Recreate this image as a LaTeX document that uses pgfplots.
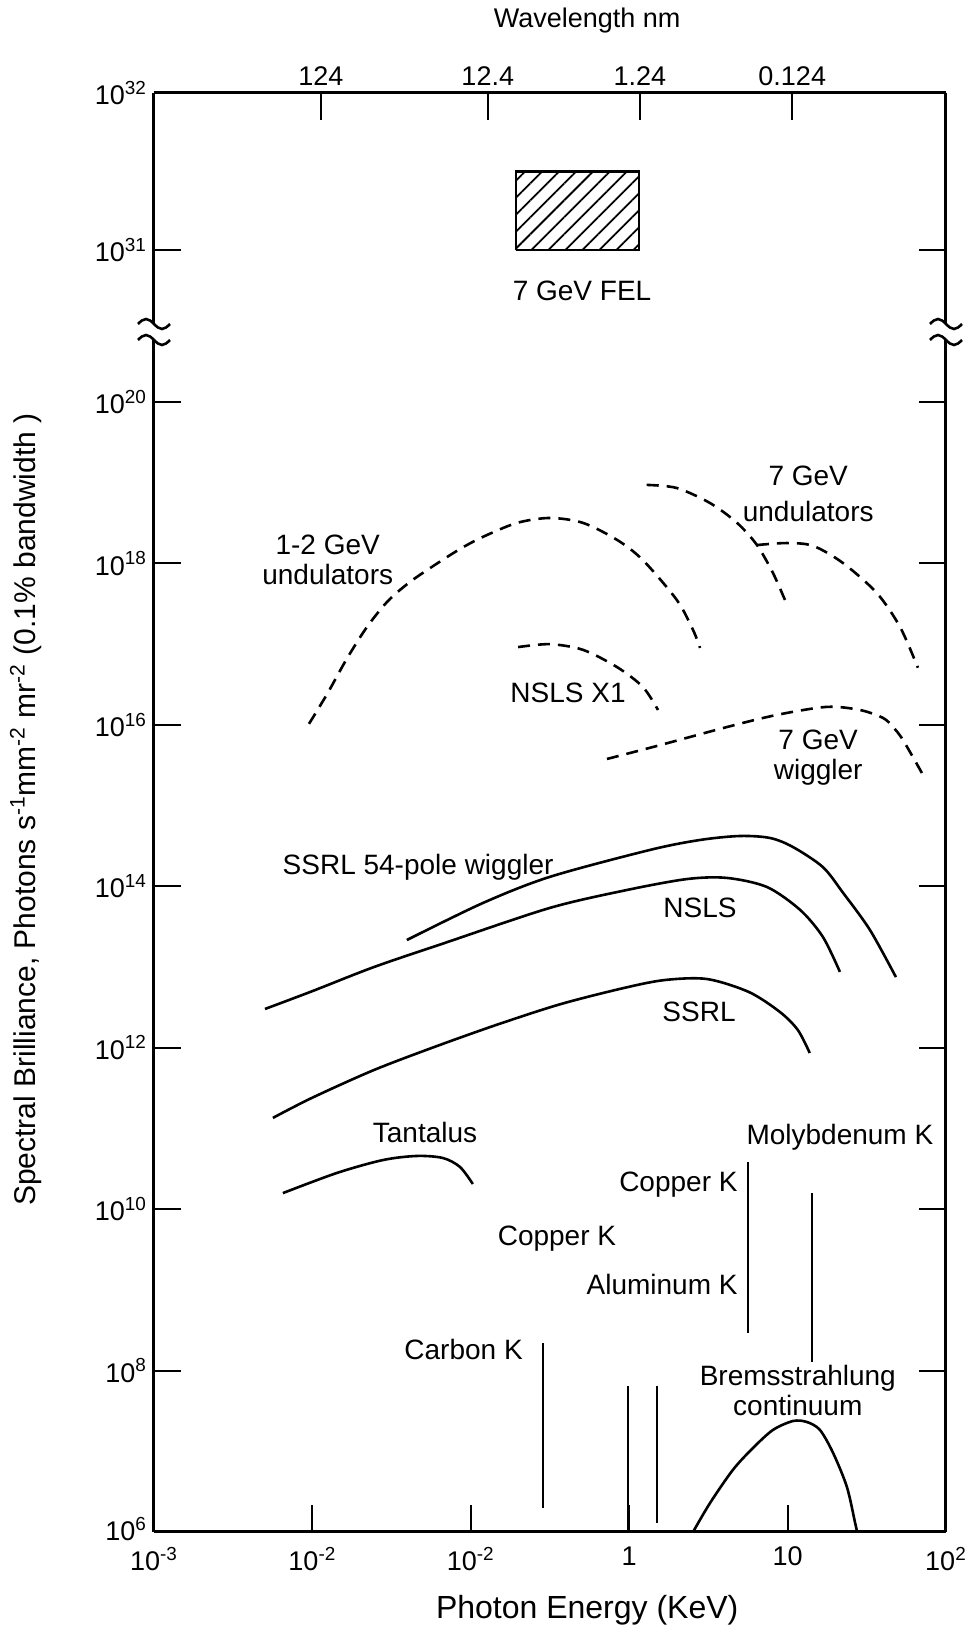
\documentclass[border=0pt]{standalone}
\usepackage{fontspec}
\setmainfont{Liberation Sans}
\usepackage{pgfplots}
\pgfplotsset{compat=1.18}
\usetikzlibrary{patterns.meta}

\newcommand\fs{\fontsize{13.5}{16}\selectfont}
\newcommand\fl{\fontsize{14}{15}\selectfont}

\tikzset{
  solid curve/.style={smooth, black, line width=1.3pt},
  dashed curve/.style={smooth, black, line width=1.3pt, dash pattern=on 6pt off 4pt},
  kline/.style={sharp plot, black, line width=1.1pt},
}

\begin{document}
\begin{tikzpicture}
\path[use as bounding box] (-77pt,-49pt) rectangle (407pt,766pt);

% lower part: 10^6 .. 10^20
\begin{axis}[name=lo, at={(0pt,0pt)}, anchor=south west,
  scale only axis, width=396pt, height=596pt,
  xmode=log, ymode=log, xmin=1e-3, xmax=1e2, ymin=1e6, ymax=5.87e20,
  axis x line=bottom, axis y line=box,
  axis line style={-, line width=1.5pt},
  tick align=inside, major tick length=13.5pt,
  tick style={black, line width=1pt},
  xminorticks=false, yminorticks=false,
  tick label style={font=\fs},
  xticklabel style={yshift=-4pt},
  clip=false,
  xtick pos=left, xticklabel pos=left,
  ytick pos=both, yticklabel pos=left,
  xtick={1e-3,1e-2,1e-1,1,10,100},
  xticklabels={10\textsuperscript{-3},10\textsuperscript{-2},10\textsuperscript{-2},1,10,10\textsuperscript{2}},
  ytick={1e6,1e8,1e10,1e12,1e14,1e16,1e18,1e20},
  yticklabels={\raisebox{3pt}{10\textsuperscript{6}},10\textsuperscript{8},10\textsuperscript{10},10\textsuperscript{12},10\textsuperscript{14},10\textsuperscript{16},10\textsuperscript{18},10\textsuperscript{20}},
]
% 1-2 GeV undulators
\addplot[dashed curve] coordinates {(9.52e-3,1.03e16) (1.24e-2,2.42e16) (1.65e-2,6.6e16) (2.21e-2,1.63e17) (3.0e-2,3.43e17) (4.13e-2,5.9e17) (5.94e-2,9.6e17) (8.55e-2,1.51e18) (0.119,2.13e18) (0.196,3.18e18) (0.316,3.66e18) (0.511,3.18e18) (0.838,1.96e18) (1.22,1.10e18) (2.00,3.52e17) (2.53,1.50e17) (2.80,8.98e16)};
% 7 GeV undulators
\addplot[dashed curve] coordinates {(1.29,9.4e18) (2.00,8.6e18) (3.24,5.6e18) (4.80,3.18e18) (6.41,1.69e18) (8.09,7.6e17) (9.63,3.52e17)};
\addplot[dashed curve] coordinates {(6.41,1.69e18) (9.9,1.79e18) (14.5,1.65e18) (22.4,1.01e18) (36.6,4.3e17) (51.3,1.63e17) (66.5,5.1e16)};
% NSLS X1
\addplot[dashed curve] coordinates {(0.199,9.2e16) (0.316,1.0e17) (0.511,8.5e16) (0.838,5.2e16) (1.22,2.95e16) (1.52,1.53e16)};
% 7 GeV wiggler
\addplot[dashed curve] coordinates {(0.724,3.78e15) (1.56,5.6e15) (4.14,9.4e15) (8.57,1.33e16) (17.7,1.67e16) (28.6,1.53e16) (40.0,1.22e16) (46.3,9.4e15) (53.5,6.5e15) (71.6,2.4e15)};
% SSRL 54-pole wiggler
\addplot[solid curve] coordinates {(3.95e-2,2.16e13) (0.119,6.2e13) (0.316,1.31e14) (1.35,2.82e14) (2.80,3.75e14) (5.0,4.2e14) (7.74,3.97e14) (10.8,3.07e14) (16.7,1.73e14) (22.4,8.3e13) (33.1,2.88e13) (48.3,7.5e12)};
% NSLS
\addplot[solid curve] coordinates {(5.02e-3,3.02e12) (9.93e-3,5.0e12) (2.45e-2,1.0e13) (6.87e-2,1.99e13) (0.316,5.4e13) (0.968,9.0e13) (2.32,1.23e14) (4.14,1.27e14) (7.41,9.8e13) (12.0,5.1e13) (16.7,2.36e13) (21.4,8.7e12)};
% SSRL
\addplot[solid curve] coordinates {(5.63e-3,1.35e11) (9.93e-3,2.39e11) (2.45e-2,5.3e11) (6.12e-2,1.05e12) (0.151,1.97e12) (0.371,3.48e12) (0.927,5.5e12) (1.68,6.9e12) (3.10,7.1e12) (5.70,4.9e12) (8.95,2.77e12) (11.6,1.66e12) (13.8,8.6e11)};
% Tantalus
\addplot[solid curve] coordinates {(6.51e-3,1.58e10) (1.43e-2,2.81e10) (2.79e-2,4.06e10) (4.57e-2,4.56e10) (6.67e-2,4.3e10) (8.55e-2,3.33e10) (0.103,2.05e10)};
% Bremsstrahlung continuum
\addplot[solid curve] coordinates {(2.53,1e6) (3.24,2.29e6) (4.52,5.9e6) (6.05,1.10e7) (8.09,1.84e7) (10.8,2.37e7) (13.2,2.31e7) (16.0,1.84e7) (19.4,9.5e6) (23.7,3.6e6) (26.7,1.29e6) (27.5,1e6)};
% K lines
\addplot[kline] coordinates {(0.286,2.0e6) (0.286,2.2e8)};
\addplot[kline] coordinates {(0.98,1e6) (0.98,6.4e7)};
\addplot[kline] coordinates {(1.50,1.3e6) (1.50,6.5e7)};
\addplot[kline] coordinates {(5.62,2.93e8) (5.62,3.84e10)};
\addplot[kline] coordinates {(14.3,1.28e8) (14.3,1.58e10)};

\node[font=\fl, align=center] at (axis cs:1.25e-2,1.1e18) {1-2 GeV\\undulators};
\node[font=\fl, align=center] at (axis cs:13.5,7.3e18) {7 GeV\\[3pt]undulators};
\node[font=\fl] at (axis cs:0.411,2.5e16) {NSLS X1};
\node[font=\fl, align=center] at (axis cs:15.6,3.9e15) {7 GeV\\wiggler};
\node[font=\fl] at (axis cs:4.65e-2,1.73e14) {SSRL 54-pole wiggler};
\node[font=\fl] at (axis cs:2.80,5.4e13) {NSLS};
\node[font=\fl] at (axis cs:2.76,2.77e12) {SSRL};
\node[font=\fl] at (axis cs:5.14e-2,8.8e10) {Tantalus};
\node[font=\fl] at (axis cs:21.4,7.8e10) {Molybdenum K};
\node[font=\fl, anchor=east, inner sep=0pt] at (axis cs:4.86,2.0e10) {Copper K};
\node[font=\fl] at (axis cs:0.35,4.27e9) {Copper K};
\node[font=\fl, anchor=east, inner sep=0pt] at (axis cs:4.86,1.15e9) {Aluminum K};
\node[font=\fl, anchor=east, inner sep=0pt] at (axis cs:0.214,1.8e8) {Carbon K};
\node[font=\fl, align=center] at (axis cs:11.6,5.7e7) {Bremsstrahlung\\continuum};

\node[font=\fontsize{16}{18}\selectfont, yshift=-39pt] at (rel axis cs:0.547,0) {Photon Energy (KeV)};
\node[font=\fontsize{15}{17}\selectfont, rotate=90] at (rel axis cs:-0.162,0.606) {Spectral Brilliance, Photons s\textsuperscript{-1}mm\textsuperscript{-2} mr\textsuperscript{-2} (0.1\% bandwidth )};
\end{axis}

% upper part: 10^30.5 .. 10^32
\begin{axis}[name=up, at={(0pt,604pt)}, anchor=south west,
  scale only axis, width=396pt, height=115.5pt,
  xmode=log, ymode=log, xmin=1e-3, xmax=1e2, ymin=3.38e30, ymax=1e32,
  axis x line=top, axis y line=box,
  axis line style={-, line width=1.5pt},
  tick align=inside, major tick length=13.5pt,
  tick style={black, line width=1pt},
  xminorticks=false, yminorticks=false,
  tick label style={font=\fs},
  clip=false,
  xtick pos=right, xticklabel pos=right,
  ytick pos=both, yticklabel pos=left,
  xtick={0.0113,0.128,1.17,10.7}, xticklabels={124,12.4,1.24,0.124},
  ytick={1e31,1e32}, yticklabels={10\textsuperscript{31},10\textsuperscript{32}},
]
\addplot[black, line width=1.3pt, pattern={Lines[angle=45,distance=6pt,line width=0.9pt]}] coordinates {(0.193,1e31) (1.153,1e31) (1.153,3.16e31) (0.193,3.16e31) (0.193,1e31)};
\node[font=\fl] at (axis cs:0.504,5.48e30) {7 GeV FEL};
\node[font=\fs, yshift=36pt] at (rel axis cs:0.547,1) {Wavelength nm};
\end{axis}

% axis break marks
\foreach \p in {lo.north west, lo.north east, up.south west, up.south east}
  \draw[line width=1.3pt, shift={(\p)}] (-8pt,0pt) sin (-4pt,2.5pt) cos (0pt,0pt) sin (4pt,-2.5pt) cos (8pt,0pt);
\end{tikzpicture}
\end{document}
